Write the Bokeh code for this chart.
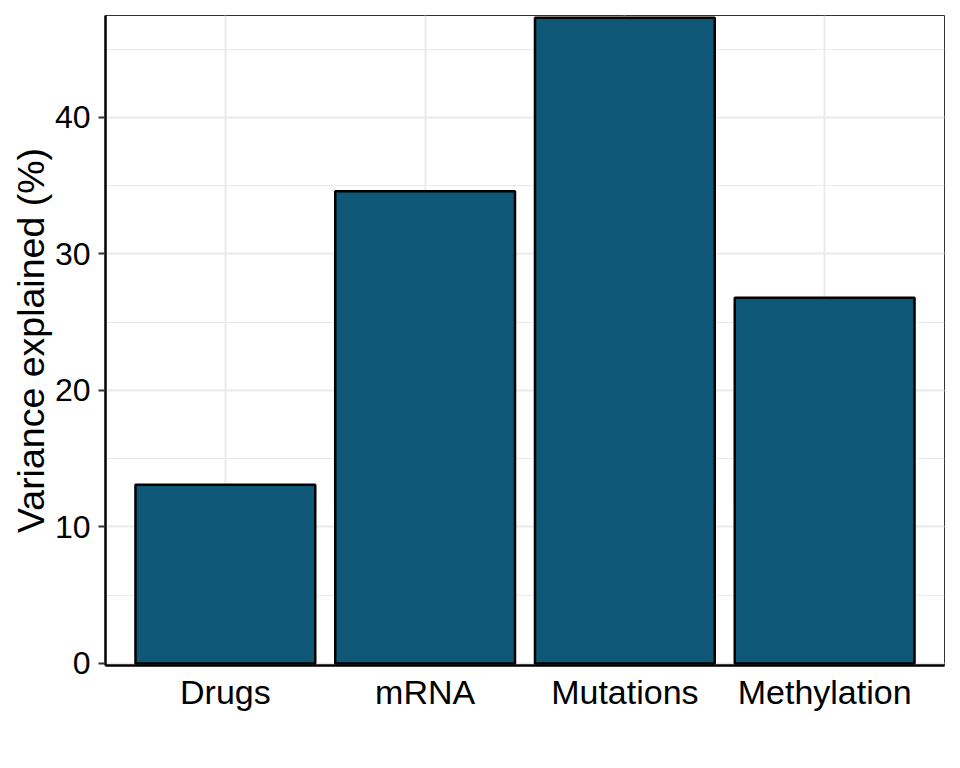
from bokeh.plotting import figure
from bokeh.models import Range1d, FixedTicker, SingleIntervalTicker, ColumnDataSource
from bokeh.embed import file_html
from bokeh.resources import INLINE

categories = ["Drugs", "mRNA", "Mutations", "Methylation"]
variance = [13.1, 34.6, 47.3, 26.8]
y_ticks = [0, 10, 20, 30, 40]

xs = list(range(1, len(categories) + 1))
src = ColumnDataSource(dict(x=xs, top=variance, cat=categories))

FONT = "Liberation Sans"

p = figure(output_backend="svg", toolbar_location=None,
           x_range=Range1d(0.4, len(categories) + 0.6), y_range=Range1d(-0.15, 47.47),
           frame_width=839, frame_height=650,
           min_border_left=105, min_border_top=15, min_border_right=8, min_border_bottom=87)

p.background_fill_color = "white"
p.border_fill_color = "white"
p.outline_line_color = "#333333"
p.outline_line_width = 1

p.vbar(x="x", top="top", bottom=0, width=0.9, source=src,
       fill_color="#0E5777", line_color="black", line_width=2.5)

# x axis
p.xaxis.ticker = FixedTicker(ticks=xs)
p.xaxis.major_label_overrides = {x: c for x, c in zip(xs, categories)}
p.xaxis.major_tick_out = 0
p.xaxis.major_tick_in = 0
p.xaxis.minor_tick_out = 0
p.xaxis.minor_tick_in = 0
p.xaxis.axis_line_color = "black"
p.xaxis.axis_line_width = 2.5
p.xaxis.major_label_text_font = FONT
p.xaxis.major_label_text_font_size = "34px"
p.xaxis.major_label_text_color = "black"
p.xaxis.major_label_standoff = 7

# y axis
p.yaxis.ticker = SingleIntervalTicker(interval=10, num_minor_ticks=2)
p.yaxis.major_tick_out = 7
p.yaxis.major_tick_in = 0
p.yaxis.major_tick_line_color = "#333333"
p.yaxis.major_tick_line_width = 2
p.yaxis.minor_tick_out = 0
p.yaxis.minor_tick_in = 0
p.yaxis.axis_line_color = "black"
p.yaxis.axis_line_width = 2.5
p.yaxis.major_label_text_font = FONT
p.yaxis.major_label_text_font_size = "32px"
p.yaxis.major_label_text_color = "black"
p.yaxis.major_label_standoff = 8
p.yaxis.axis_label = "Variance explained (%)"
p.yaxis.axis_label_text_font = FONT
p.yaxis.axis_label_text_font_size = "37.5px"
p.yaxis.axis_label_text_font_style = "normal"
p.yaxis.axis_label_text_color = "black"
p.yaxis.axis_label_standoff = 0

# grids
p.xgrid.ticker = FixedTicker(ticks=xs)
p.xgrid.grid_line_color = "#EBEBEB"
p.xgrid.grid_line_width = 2
p.ygrid.grid_line_color = "#EBEBEB"
p.ygrid.grid_line_width = 2
p.ygrid.minor_grid_line_color = "#EBEBEB"
p.ygrid.minor_grid_line_width = 1

open("out.html", "w").write(file_html(p, INLINE))
